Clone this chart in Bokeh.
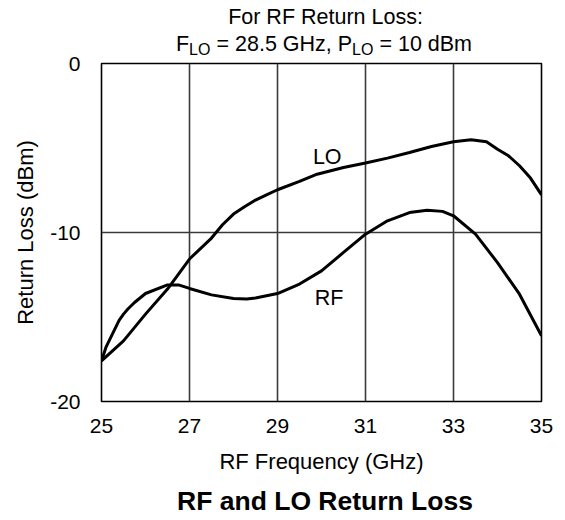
from bokeh.plotting import figure
from bokeh.models import Label, FixedTicker, Range1d
from bokeh.layouts import column
from bokeh.embed import file_html
from bokeh.resources import INLINE

# ---- data ----
lo_freq = [25.0, 25.25, 25.5, 26.0, 26.5, 27.0, 27.5, 27.75, 28.0, 28.25, 28.5, 28.75, 29.0, 29.5, 29.9,
           30.5, 31.0, 31.5, 32.0, 32.5, 33.0, 33.4, 33.75, 34.0, 34.25, 34.5, 34.75, 35.0]
lo_db = [-17.6, -17.0, -16.41, -14.83, -13.35, -11.57, -10.33, -9.54, -8.91, -8.48, -8.08, -7.77, -7.47, -6.98, -6.55,
         -6.15, -5.89, -5.6, -5.27, -4.91, -4.63, -4.51, -4.63, -5.07, -5.46, -6.05, -6.78, -7.77]

rf_freq = [25.0, 25.1, 25.25, 25.4, 25.5, 25.6, 25.75, 26.0, 26.5, 26.75, 27.0, 27.5, 28.0, 28.3, 28.5, 29.0,
           29.5, 30.0, 30.5, 31.0, 31.5, 32.0, 32.4, 32.75, 33.0, 33.5, 34.0, 34.5, 35.0]
rf_db = [-17.6, -16.8, -16.0, -15.2, -14.83, -14.53, -14.14, -13.61, -13.1, -13.1, -13.31, -13.69, -13.9, -13.94, -13.88, -13.61,
         -13.05, -12.27, -11.18, -10.1, -9.31, -8.82, -8.68, -8.75, -9.01, -10.1, -11.78, -13.65, -16.11]

x_ticks = [25, 27, 29, 31, 33, 35]
y_ticks = [-20, -10, 0]
y_tick_text = {-20: "-20", -10: "-10", 0: "0"}

title_line1 = "For RF Return Loss:"
title_line2 = ["F", "LO", "= 28.5 GHz, P", "LO", "= 10 dBm"]
chart_title = "RF and LO Return Loss"
x_label = "RF Frequency (GHz)"
y_label = "Return Loss (dBm)"
series_names = ["LO", "RF"]

FONT = "Liberation Sans"
W = 565
LEFT, RIGHT = 101, 24          # plot borders shared by all stacked panels
FRAME_X0, FRAME_X1 = LEFT, W - RIGHT
MID = 0.3465                   # text-box middle above the baseline, in em
TOP_H = 60                     # height of the upper title panel
OVERLAP = 10                   # main chart slides up under the title panel by this much


def text_panel(h, y_top):
    # a frameless panel whose data coordinates equal page pixels
    f = figure(width=W, height=h, output_backend="svg", toolbar_location=None, title=None,
               x_axis_type=None, y_axis_type=None,
               x_range=Range1d(FRAME_X0, FRAME_X1), y_range=Range1d(y_top + h, y_top),
               min_border_left=LEFT, min_border_right=RIGHT, min_border_top=0, min_border_bottom=0)
    f.outline_line_color = None
    f.background_fill_color = "white"
    f.border_fill_color = "white"
    return f


def add_text(fig, x, baseline, text, size, align="left", bold=False):
    fig.add_layout(Label(x=x, y=baseline - MID * size, text=text, text_font=FONT,
                         text_font_size=f"{size}px", text_font_style="bold" if bold else "normal",
                         text_align=align, text_baseline="middle", text_color="black"))


# ---- top title panel ----
top = text_panel(TOP_H, 0)
add_text(top, 325, 24, title_line1, 21.5, align="center")
line2_x = [175.5, 188.6, 216.0, 351.6, 378.9]
line2_base = [50.7, 55.0, 50.7, 55.0, 50.7]
line2_size = [21.5, 16, 21.5, 16, 21.5]
for t, xx, yy, fs in zip(title_line2, line2_x, line2_base, line2_size):
    add_text(top, xx, yy, t, fs)

# ---- main chart ----
main_top_border = 63 - (TOP_H - OVERLAP)
p = figure(width=W, height=main_top_border + 338 + 81, output_backend="svg", toolbar_location=None,
           title=None, x_range=Range1d(25, 35), y_range=Range1d(-20, 0),
           min_border_left=LEFT, min_border_right=RIGHT, min_border_top=main_top_border,
           min_border_bottom=81, margin=(-OVERLAP, 0, 0, 0))

p.background_fill_color = "white"
p.border_fill_color = "white"
p.border_fill_alpha = 0.0
p.outline_line_color = "black"
p.outline_line_width = 1.6

for ax in (p.xaxis, p.yaxis):
    ax.axis_line_color = None
    ax.major_tick_line_color = None
    ax.minor_tick_line_color = None
    ax.major_label_text_font = FONT
    ax.major_label_text_font_size = "21px"
    ax.major_label_text_color = "black"
    ax.axis_label_text_font = FONT
    ax.axis_label_text_font_size = "22px"
    ax.axis_label_text_font_style = "normal"
    ax.axis_label_text_color = "black"

p.xaxis.ticker = FixedTicker(ticks=x_ticks)
p.yaxis.ticker = FixedTicker(ticks=y_ticks)
p.yaxis.major_label_overrides = y_tick_text
p.xaxis.major_label_standoff = 11
p.yaxis.major_label_standoff = 15
p.xaxis.axis_label = x_label
p.yaxis.axis_label = y_label
p.xaxis.axis_label_standoff = 13
p.yaxis.axis_label_standoff = 9

p.xgrid.ticker = FixedTicker(ticks=x_ticks)
p.ygrid.ticker = FixedTicker(ticks=y_ticks)
for g in (p.xgrid, p.ygrid):
    g.grid_line_color = "#3a3a3a"
    g.grid_line_width = 1.6

p.line(lo_freq, lo_db, line_color="black", line_width=3)
p.line(rf_freq, rf_db, line_color="black", line_width=3)

p.add_layout(Label(x=30.13, y=-5.52, text=series_names[0], text_font=FONT, text_font_size="21.5px",
                   text_align="center", text_baseline="middle", text_color="black"))
p.add_layout(Label(x=30.17, y=-13.85, text=series_names[1], text_font=FONT, text_font_size="21.5px",
                   text_align="center", text_baseline="middle", text_color="black"))

# ---- bottom bold title panel ----
bottom = text_panel(38, 482)
add_text(bottom, 324.5, 510, chart_title, 26.5, align="center", bold=True)

layout = column(top, p, bottom)
open("out.html", "w").write(file_html(layout, INLINE))
